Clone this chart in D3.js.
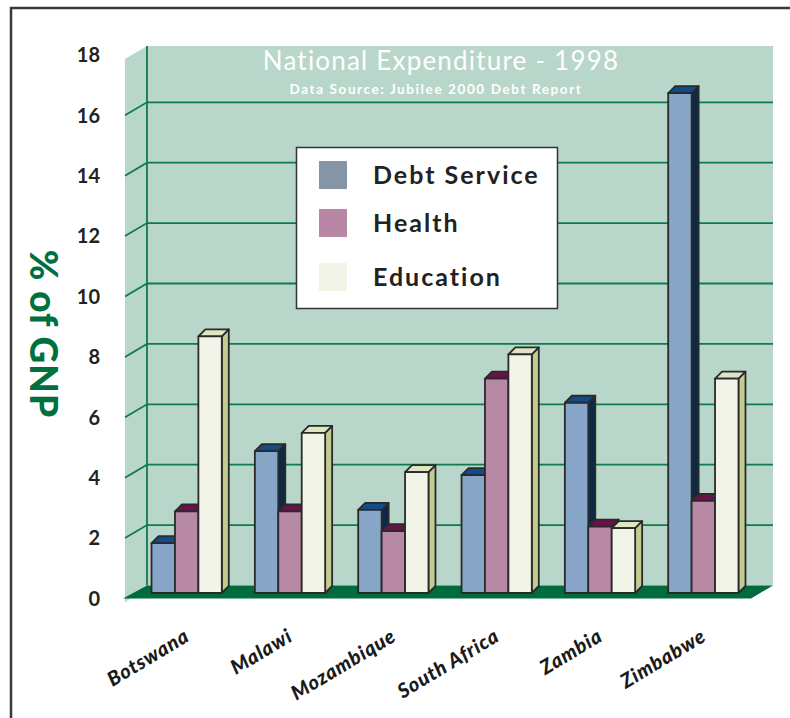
<!DOCTYPE html>
<html lang="en">
<head>
    <meta charset="UTF-8">
    <title>National Expenditure - 1998</title>
    <script src="https://d3js.org/d3.v7.min.js"></script>
    <style>
        body { margin: 0; background: #fff; }
        text { font-family: Lato, "Open Sans", sans-serif; }
    </style>
</head>
<body>
    <svg id="chart"></svg>

    <script>
        const countries = ["Botswana", "Malawi", "Mozambique", "South Africa", "Zambia", "Zimbabwe"];
        const seriesNames = ["Debt Service", "Health", "Education"];
        const debtService = [1.65, 4.7, 2.75, 3.9, 6.3, 16.55];
        const health = [2.7, 2.7, 2.05, 7.1, 2.2, 3.05];
        const education = [8.5, 5.3, 4.0, 7.9, 2.15, 7.1];
        const yTicks = [0, 2, 4, 6, 8, 10, 12, 14, 16, 18];

        const seriesValues = [debtService, health, education];

        // face colours per series: front, top, side, legend swatch
        const faces = [
            { front: "#87a5c7", top: "#0f4c8c", side: "#0b2a4a", swatch: "#8496a6" },
            { front: "#b889a5", top: "#6d0f4d", side: "#4f0a38", swatch: "#b887a5" },
            { front: "#f2f4e8", top: "#dfe5c3", side: "#c3cc90", swatch: "#f2f4e8" }
        ];

        const width = 790;
        const height = 718;

        const svg = d3.select("#chart")
            .attr("width", width)
            .attr("height", height);

        // wall depth offset (front plane -> back plane)
        const wallDx = 22, wallDy = -13;
        // bar depth offset
        const barDx = 7, barDy = -7;

        const yBack = d3.scaleLinear().domain([0, 18]).range([585.5, 41.9]);
        const yFront = v => yBack(v) - wallDy;
        const yBar = v => yBack(v) + 7.5;

        const backLeft = 147, backRight = 773;
        const wallTop = 46;

        const x = d3.scaleBand()
            .domain(countries)
            .range([135, 755])
            .paddingInner(0.32)
            .paddingOuter(0.16);

        const xs = d3.scaleBand()
            .domain(seriesNames)
            .range([0, x.bandwidth()]);

        // outer frame
        svg.append("path")
            .attr("d", `M11,${height + 5} L11,8 L${width + 5},8`)
            .attr("fill", "none")
            .attr("stroke", "#3a3a3a")
            .attr("stroke-width", 2.5);

        // back wall and left side wall
        svg.append("rect")
            .attr("x", backLeft)
            .attr("y", wallTop)
            .attr("width", backRight - backLeft)
            .attr("height", yBack(0) - wallTop)
            .attr("fill", "#b9d6ca");

        svg.append("polygon")
            .attr("points", [
                [backLeft - wallDx, wallTop - wallDy],
                [backLeft, wallTop],
                [backLeft, yBack(0)],
                [backLeft - wallDx, yFront(0) + 4]
            ].join(" "))
            .attr("fill", "#b9d6ca");

        // gridlines
        const grid = yTicks.filter(v => v > 0 && v < 18);
        svg.append("g")
            .selectAll("polyline")
            .data(grid)
            .join("polyline")
            .attr("points", d => [
                [backLeft - wallDx, yFront(d)],
                [backLeft, yBack(d)],
                [backRight, yBack(d)]
            ].join(" "))
            .attr("fill", "none")
            .attr("stroke", "#0e7a4e")
            .attr("stroke-width", 1.8);

        svg.append("line")
            .attr("x1", backLeft).attr("x2", backLeft)
            .attr("y1", wallTop).attr("y2", yBack(0))
            .attr("stroke", "#0e7a4e")
            .attr("stroke-width", 1.8);

        // floor
        svg.append("polygon")
            .attr("points", [
                [backLeft - wallDx - 2, yFront(0)],
                [backLeft, yBack(0)],
                [backRight, yBack(0)],
                [backRight - wallDx, yFront(0)]
            ].join(" "))
            .attr("fill", "#006b3c");

        // y tick labels
        svg.append("g")
            .selectAll("text")
            .data(yTicks)
            .join("text")
            .attr("x", 100)
            .attr("y", d => yFront(d))
            .attr("dy", "0.36em")
            .attr("text-anchor", "end")
            .style("font-size", "20px")
            .style("font-weight", "bold")
            .attr("fill", "#222")
            .text(d => d);

        // y axis title
        svg.append("text")
            .attr("transform", "translate(30,334) rotate(90)")
            .attr("text-anchor", "middle")
            .style("font-size", "37px")
            .style("font-weight", "900")
            .style("letter-spacing", "1px")
            .attr("fill", "#00703c")
            .text("% of GNP");

        // bars, drawn series by series inside each group so nearer faces cover the sides
        const bars = svg.append("g")
            .attr("stroke", "#2a2a2a")
            .attr("stroke-width", 1.8)
            .attr("stroke-linejoin", "round");

        countries.forEach((c, i) => {
            seriesNames.forEach((s, j) => {
                const v = seriesValues[j][i];
                const x0 = x(c) + xs(s);
                const w = xs.bandwidth();
                const yt = yBar(v);
                const yb = yBar(0);
                const f = faces[j];
                const g = bars.append("g");
                g.append("polygon")
                    .attr("points", [[x0 + w, yt], [x0 + w + barDx, yt + barDy], [x0 + w + barDx, yb + barDy], [x0 + w, yb]].join(" "))
                    .attr("fill", f.side);
                g.append("polygon")
                    .attr("points", [[x0, yt], [x0 + barDx, yt + barDy], [x0 + w + barDx, yt + barDy], [x0 + w, yt]].join(" "))
                    .attr("fill", f.top);
                g.append("rect")
                    .attr("x", x0)
                    .attr("y", yt)
                    .attr("width", w)
                    .attr("height", yb - yt)
                    .attr("fill", f.front);
            });
        });

        // category labels
        svg.append("g")
            .selectAll("text")
            .data(countries)
            .join("text")
            .attr("transform", d => `translate(${x(d) + x.bandwidth() / 2 + 4},640) rotate(-31)`)
            .attr("text-anchor", "end")
            .style("font-size", "20px")
            .style("font-weight", "900")
            .style("font-style", "italic")
            .style("letter-spacing", "0.8px")
            .attr("fill", "#1a1a1a")
            .text(d => d);

        // titles
        svg.append("text")
            .attr("x", 441)
            .attr("y", 70)
            .attr("text-anchor", "middle")
            .style("font-size", "26px")
            .style("letter-spacing", "1.2px")
            .attr("fill", "#fff")
            .text("National Expenditure - 1998");

        svg.append("text")
            .attr("x", 436)
            .attr("y", 94)
            .attr("text-anchor", "middle")
            .style("font-size", "13.5px")
            .style("font-weight", "bold")
            .style("letter-spacing", "1.6px")
            .attr("fill", "#fff")
            .text("Data Source: Jubilee 2000 Debt Report");

        // legend
        const legend = svg.append("g");
        legend.append("rect")
            .attr("x", 296.5)
            .attr("y", 147.5)
            .attr("width", 261)
            .attr("height", 161)
            .attr("fill", "#fff")
            .attr("stroke", "#333")
            .attr("stroke-width", 1.5);

        const legendRows = [175, 223, 277];
        seriesNames.forEach((s, j) => {
            legend.append("rect")
                .attr("x", 319)
                .attr("y", legendRows[j] - 14)
                .attr("width", 28)
                .attr("height", 28)
                .attr("fill", faces[j].swatch);
            legend.append("text")
                .attr("x", 373)
                .attr("y", legendRows[j])
                .attr("dy", "0.36em")
                .style("font-size", "25px")
                .style("font-weight", "bold")
                .style("letter-spacing", "2px")
                .attr("fill", "#222")
                .text(s);
        });
    </script>
</body>
</html>
